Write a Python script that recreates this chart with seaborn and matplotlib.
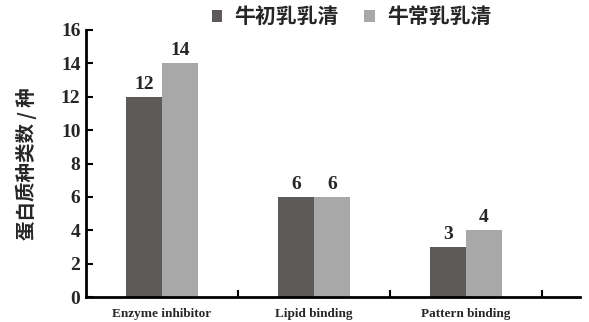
import matplotlib
matplotlib.use("Agg")
import matplotlib.pyplot as plt
from matplotlib.ticker import FixedLocator
import seaborn as sns
import pandas as pd

categories = ["Enzyme inhibitor\nactivity", "Lipid binding", "Pattern binding"]
colostrum_whey = [12, 6, 3]
mature_whey = [14, 6, 4]
series_names = ["牛初乳乳清", "牛常乳乳清"]
y_ticks = [0, 2, 4, 6, 8, 10, 12, 14, 16]

df = pd.DataFrame({
    "category": categories * 2,
    "count": colostrum_whey + mature_whey,
    "series": [series_names[0]] * 3 + [series_names[1]] * 3,
})

sns.set_theme(style="white")
plt.rcParams["font.family"] = ["Liberation Serif", "Noto Sans CJK SC"]

fig = plt.figure(figsize=(5.89, 3.22), dpi=100)
ax = fig.add_axes([86 / 589, 1 - 297 / 322, (580 - 86) / 589, (297 - 30) / 322])

palette = {series_names[0]: "#5e5a5a", series_names[1]: "#a8a8a8"}
sns.barplot(data=df, x="category", y="count", hue="series", palette=palette,
            width=0.47, saturation=1, linewidth=0, ax=ax, legend=True)

for cont in ax.containers:
    ax.bar_label(cont, fmt="%d", padding=3, fontsize=14, fontweight="bold",
                 family="Liberation Serif")

ax.set_xlim(-0.5, 2.75)
ax.set_ylim(0, 16)
ax.set_yticks(y_ticks)
ax.set_yticklabels([str(t) for t in y_ticks], fontsize=14, fontweight="bold",
                   family="Liberation Serif")
ax.set_xticks(range(len(categories)))
ax.set_xticklabels(categories, fontsize=9.5, fontweight="bold",
                   family="Liberation Serif", va="top", linespacing=1.4)
ax.xaxis.set_minor_locator(FixedLocator([0.5, 1.5, 2.5]))
ax.tick_params(axis="x", which="major", length=0, pad=8)
ax.tick_params(axis="x", which="minor", direction="in", length=5, width=1.5,
               color="black", bottom=True)
ax.tick_params(axis="y", direction="in", length=5, width=1.5, color="black",
               left=True, pad=4)

ax.set_xlabel("")
ax.set_ylabel("蛋白质种类数 / 种", fontsize=14, fontweight="heavy",
              family=["Noto Sans CJK SC", "DejaVu Sans"], labelpad=17)

for side in ["top", "right"]:
    ax.spines[side].set_visible(False)
for side in ["left", "bottom"]:
    ax.spines[side].set_color("black")
    ax.spines[side].set_linewidth(2)

handles, labels = ax.get_legend_handles_labels()
ax.legend(handles, labels, loc="lower center", bbox_to_anchor=(0.538, 0.94),
          ncol=2, frameon=False, handlelength=0.5, handleheight=0.5,
          handletextpad=0.6, columnspacing=1.2,
          prop={"family": ["Noto Sans CJK SC", "DejaVu Sans"],
                "weight": "heavy", "size": 15})

fig.savefig("out.png", dpi=100)
